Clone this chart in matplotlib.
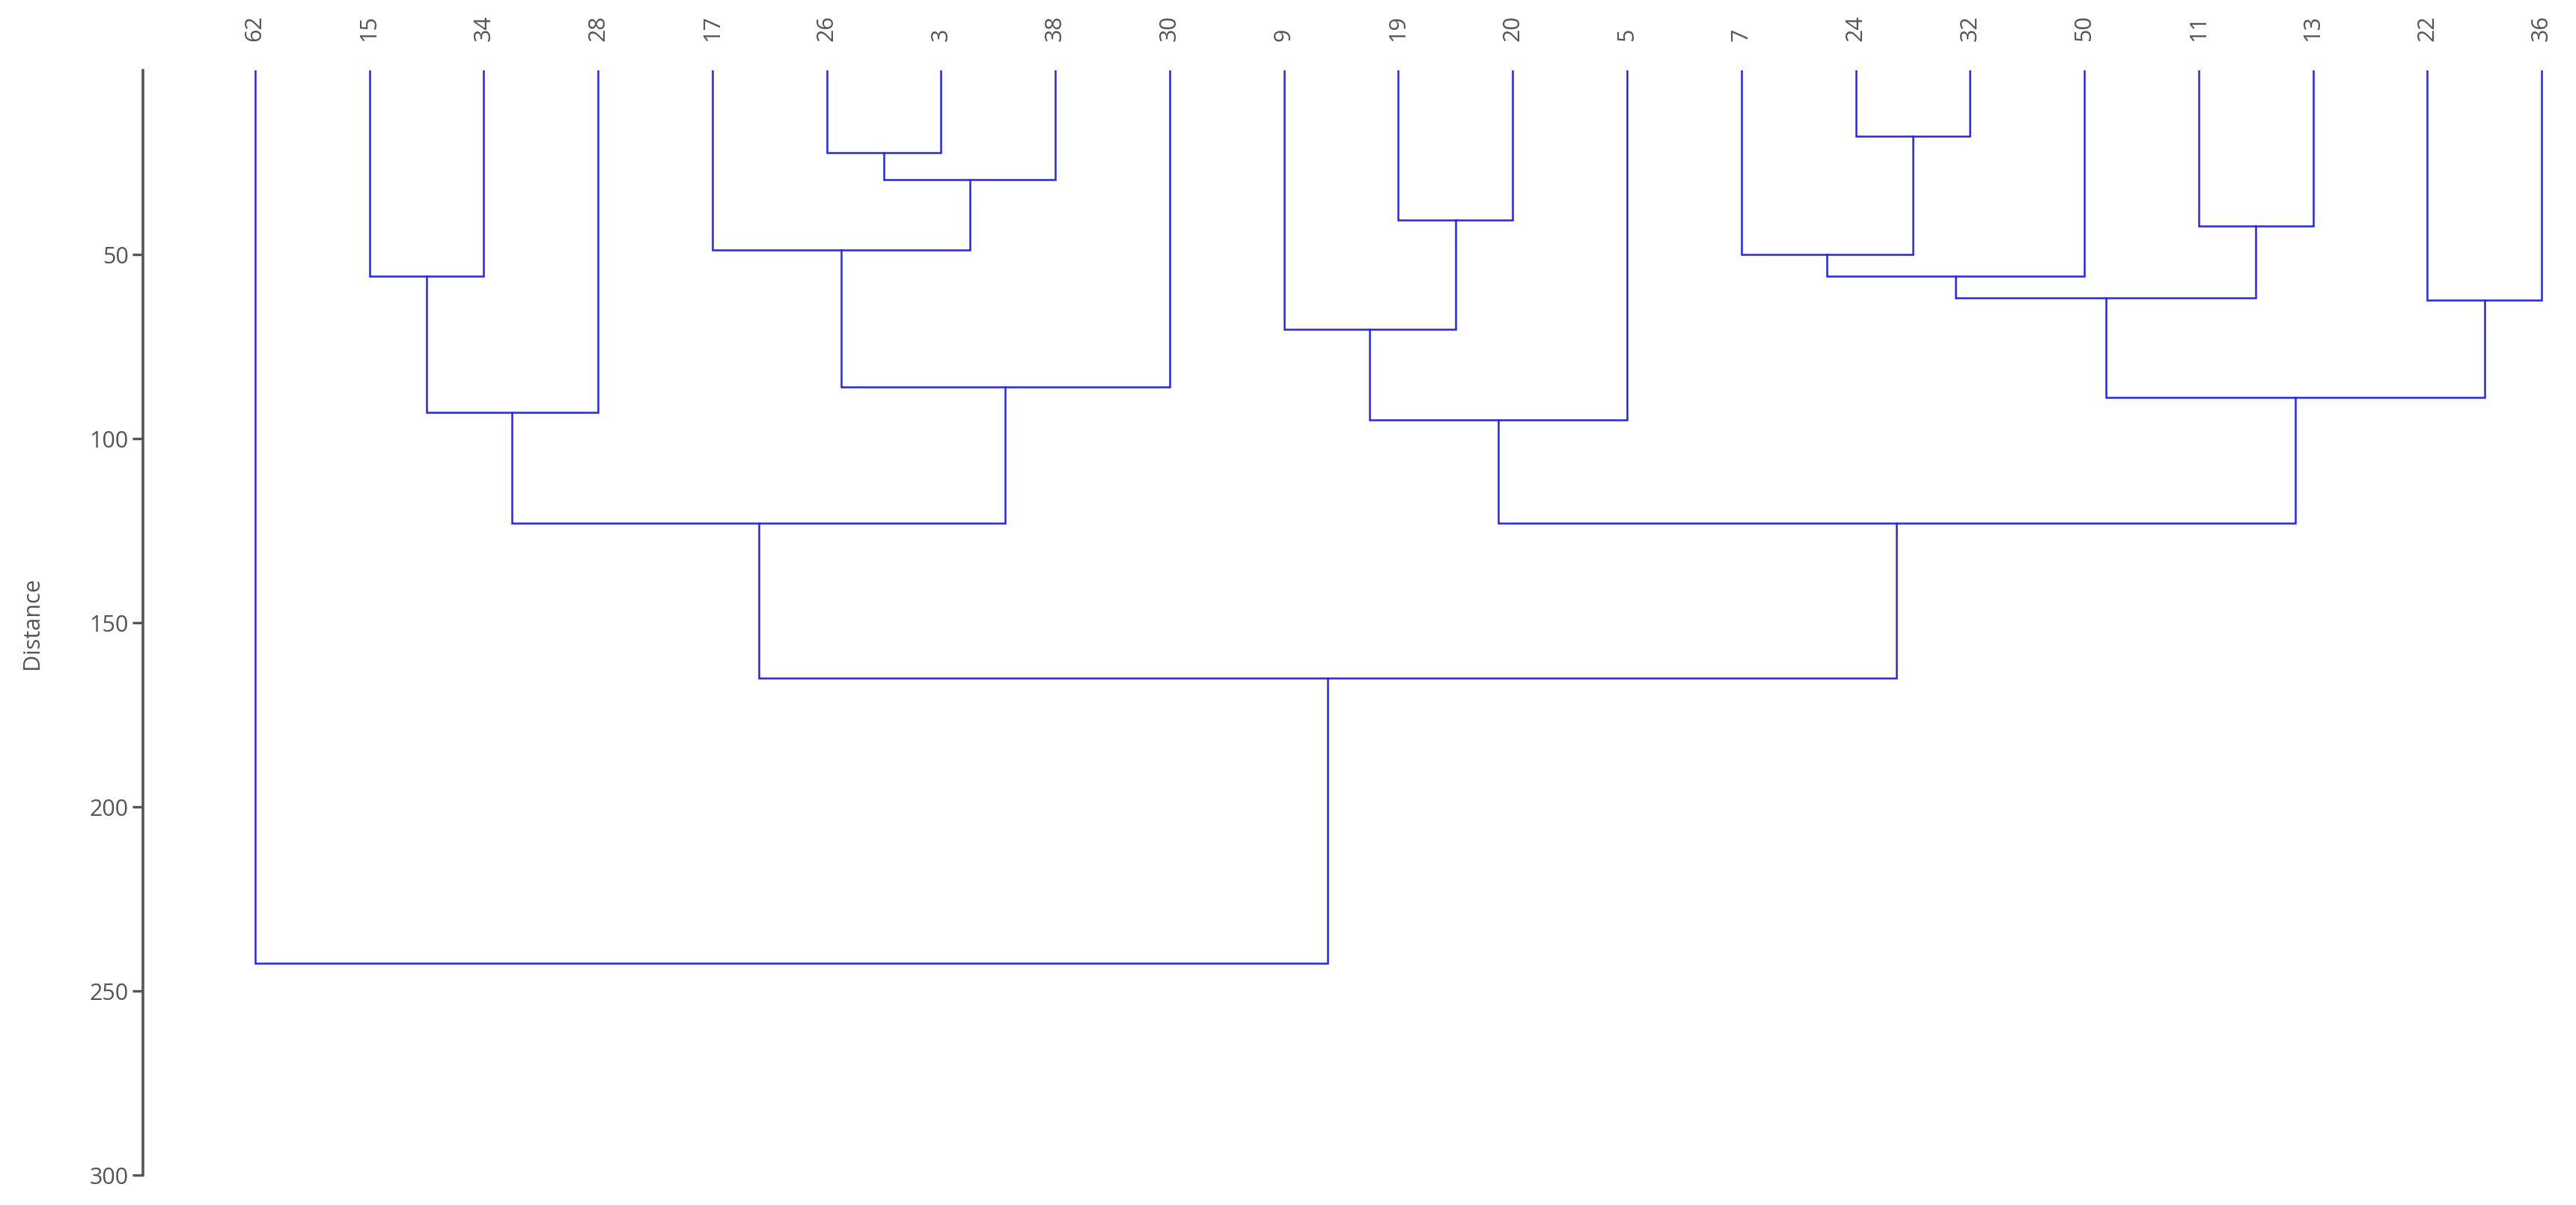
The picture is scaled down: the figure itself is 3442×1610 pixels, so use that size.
import matplotlib
matplotlib.use("Agg")
import matplotlib.pyplot as plt

# leaf order, left to right
leaves = ["62", "15", "34", "28", "17", "26", "3", "38", "30", "9", "19",
          "20", "5", "7", "24", "32", "50", "11", "13", "22", "36"]

# merges: (left child, right child, distance); children are leaf labels or earlier merge names
merge_names = ["a", "b", "c", "d", "e", "f", "g", "h", "i", "j", "k",
               "l", "m", "n", "o", "p", "q", "r", "s", "t"]
merge_left = ["26", "a", "17", "c", "15", "e", "f", "19", "9", "i",
              "24", "7", "l", "11", "m", "22", "o", "j", "g", "62"]
merge_right = ["3", "38", "b", "30", "34", "28", "d", "20", "h", "5",
               "32", "k", "50", "13", "n", "36", "p", "q", "r", "s"]
merge_dist = [22.3, 29.7, 48.8, 85.9, 55.8, 92.9, 122.8, 40.5, 70.3, 94.9,
              17.9, 50.0, 55.8, 42.2, 61.7, 62.4, 88.8, 122.8, 165.0, 242.4]

line_col = "#2222ff"
grey = "#555555"

plt.rcParams['font.family'] = ['Open Sans', 'DejaVu Sans']

fig = plt.figure(figsize=(17.21, 8.05), dpi=200)
ax = fig.add_axes([0.0555, 0.0246, 0.9445, 0.9168])

xpos = {}
ypos = {}
for i, lab in enumerate(leaves):
    xpos[lab] = i
    ypos[lab] = 0.0

for name, l, r, d in zip(merge_names, merge_left, merge_right, merge_dist):
    xl, xr = xpos[l], xpos[r]
    ax.plot([xl, xl, xr, xr], [ypos[l], d, d, ypos[r]], color=line_col, lw=0.9,
            solid_joinstyle="miter")
    xpos[name] = (xl + xr) / 2
    ypos[name] = d

ax.set_xlim(-0.98, 20.3)
ax.set_ylim(300, 0)

ax.set_xticks(range(len(leaves)))
ax.set_xticklabels(leaves, rotation=90, fontsize=11, color=grey)
ax.xaxis.tick_top()
ax.tick_params(axis="x", length=0, pad=14)

ax.set_yticks([50, 100, 150, 200, 250, 300])
ax.tick_params(axis="y", length=5, width=1.2, color=grey, labelcolor=grey,
               labelsize=11, pad=2)
ax.set_ylabel("Distance", fontsize=11, color=grey, labelpad=22)

for side in ["top", "right", "bottom"]:
    ax.spines[side].set_visible(False)
ax.spines["left"].set_color(grey)
ax.spines["left"].set_linewidth(1.3)

fig.savefig("out.png", dpi=200)
